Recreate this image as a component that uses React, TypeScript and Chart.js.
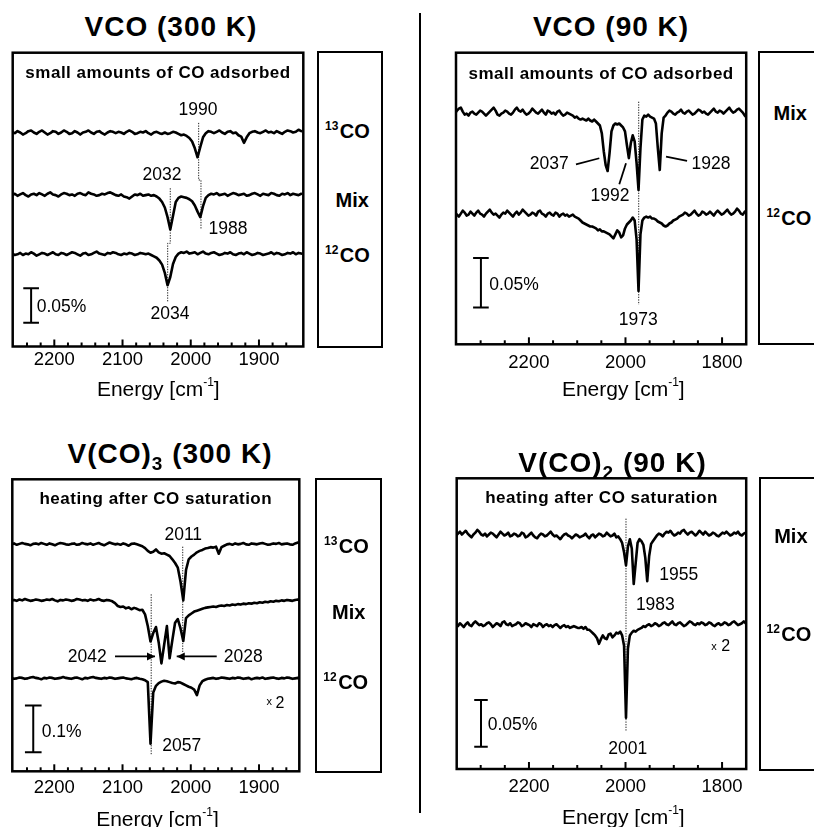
import React, { useEffect, useRef } from 'react';
import { Chart, registerables } from 'chart.js';

Chart.register(...registerables);

const FONT = '"Liberation Sans", Arial, Helvetica, sans-serif';

// ---------------- data ----------------
// Sampling grids of the spectra: first wavenumber (cm-1) and spacing (cm-1)
const GRID_VCO_300K = { start: 2262, step: 4 };
const GRID_VCO_90K = { start: 2353, step: 4 };
const GRID_VCO3_300K = { start: 2263, step: 4 };
const GRID_VCO2_90K = { start: 2351, step: 4 };

// Tick labels of the energy axes
const TICKS_300K = [2200, 2100, 2000, 1900];
const TICKS_90K = [2200, 2000, 1800];

// Signals in units of 0.001 % (relative to each trace's own baseline)
// VCO (300 K)
const VCO300_13CO = [
  2, 0, 3, 1, -2, 0, 3, 4, 1, -1,
  2, 4, 1, -2, 0, 3, 2, -1, 1, 4,
  2, -1, 0, 3, 1, -2, 1, 2, 4, 1,
  -1, 2, 3, 0, -2, 1, 3, 2, 0, 2,
  1, -1, 2, 4, 2, -1, 0, 2, 1, 3,
  0, -2, 1, 2, 0, -1, 1, -1, 0, 2,
  1, -1, -3, -2, -4, -7, -12, -22, -35, -20,
  -6, 0, 3, 2, 0, 2, 4, 1, -1, 2,
  3, 0, 1, -3, -5, -14, -6, 0, 2, 3,
  1, 0, 2, 4, 1, 2, 0, 3, 1, -1,
  2, 4, 3, 1, 2, 5, 3,
];
const VCO300_MIX = [
  0, 2, -1, 1, 3, 0, -2, 1, 2, 0,
  3, 1, -1, 2, 4, 1, 0, -2, 1, 3,
  2, 0, 1, -1, 2, 3, 1, 0, 4, 2,
  1, -1, 0, 2, 1, 3, 4, 2, 0, -1,
  1, -2, -3, -5, -2, 1, 0, 2, -1, 0,
  1, -1, 0, -2, -5, -10, -18, -32, -50, -30,
  -10, -4, -2, -3, -4, -6, -9, -15, -24, -32,
  -16, -4, 0, 2, 1, 3, 0, 1, 2, -1,
  1, 3, 2, 0, 1, 2, -1, 0, 2, 3,
  1, -1, 2, 1, 0, 3, 2, 0, -1, 2,
  1, 3, 0, 2, 1, 0, 2,
];
const VCO300_12CO = [
  1, -1, 0, 2, -1, 1, 0, 3, 1, -2,
  0, 2, 1, -1, 1, 3, 0, -1, 2, 1,
  -1, 1, 3, 2, 0, -2, 1, 2, -1, 0,
  2, 4, 1, 0, -1, 2, 1, 3, 2, 0,
  -1, 1, 0, 2, 1, -1, 0, 2, 1, 0,
  1, -1, -3, -5, -9, -15, -27, -45, -33, -14,
  -4, 1, 3, 2, 4, 1, 2, 3, 0, 2,
  4, 1, 0, 2, 3, 1, -1, 0, 2, 1,
  3, 0, -1, 1, 2, 0, 3, 1, -1, 0,
  2, 1, -1, 0, 1, 3, 0, 2, 1, -1,
  0, 2, 1, 3, 0, 2, 1,
];

// VCO (90 K)
const VCO90_MIX = [
  0, 3, 5, 6, 2, -1, 0, -2, 1, 2,
  0, -1, 1, 3, 2, 0, -2, 0, 2, 4,
  6, 3, -1, -2, 0, 1, 3, 2, 0, -1,
  1, 4, 6, 3, 2, 4, 1, -1, 0, 2,
  5, 3, 1, 0, 2, 4, 1, -1, 3, 2,
  0, 1, -1, 2, 3, 0, -2, -1, 1, 0,
  -1, -2, -4, -3, -5, -6, -5, -6, -7, -5,
  -7, -8, -6, -8, -10, -12, -20, -38, -52, -58,
  -40, -18, -12, -10, -11, -10, -12, -14, -18, -32,
  -45, -30, -22, -28, -50, -77, -35, -6, -2, -3,
  -1, -3, -4, -5, -10, -35, -57, -20, -4, -2,
  1, 3, 2, 0, -1, 1, 2, 4, 1, 0,
  2, 3, 1, -1, 0, 2, 4, 3, 1, 2,
  0, -1, 1, 3, 5, 2, 1, 3, 2, 0,
  2, 4, 6, 3, 1, 2, 4, 5, 3, 1,
  -2, -4,
];
const VCO90_12CO = [
  2, 0, -2, 1, 4, 2, -1, 0, 3, 1,
  -1, 2, 4, 1, 0, -2, 1, 3, 5, 2,
  0, 1, -1, -3, 0, 2, 1, 4, 2, 0,
  -2, 1, 3, 0, 2, 5, 3, 1, -1, 0,
  2, 1, -1, 3, 4, 1, 0, -2, 1, 2,
  0, -1, 2, 1, -2, 0, 1, -1, 0, -2,
  -1, 0, -2, -3, -4, -6, -8, -9, -10, -11,
  -12, -12, -13, -14, -16, -15, -17, -17, -18, -19,
  -20, -22, -24, -20, -16, -18, -23, -21, -14, -10,
  -8, -6, -3, -6, -25, -77, -20, -6, -3, -2,
  -3, -2, -4, -4, -5, -7, -8, -9, -11, -12,
  -11, -9, -8, -6, -5, -4, -2, -1, 0, 2,
  1, -1, 0, 2, 4, 1, -1, 0, 3, 2,
  0, 1, 3, 1, -1, 2, 4, 2, 0, 1,
  3, 5, 2, 0, 1, 3, 6, 4, 1, 0,
  3, 1,
];

// V(CO)3 (300 K)
const VCO3_13CO = [
  0, 2, -1, 1, 3, 1, 0, -2, 1, 2,
  0, 3, 1, -1, 2, 0, -2, 1, 3, 2,
  0, -1, 1, 2, -1, 0, 3, 1, 0, 2,
  -1, 1, 3, 0, -2, 1, 4, 2, 0, 1,
  -1, 2, 0, -3, 1, 2, 0, -2, -4, -8,
  -14, -18, -16, -11, -17, -20, -19, -22, -25, -32,
  -40, -50, -80, -120, -55, -32, -26, -22, -17, -14,
  -12, -9, -8, -6, -7, -5, -20, -6, -3, 0,
  1, -1, 2, 0, 1, 3, 0, -1, 2, 1,
  0, 2, 3, 1, -1, 0, 2, 1, 3, 0,
  1, 2, 0, -1, 2, 4, 1,
];
const VCO3_MIX = [
  0, 1, -1, 2, 0, 3, 1, -1, 0, 2,
  1, -1, 0, 2, 1, 3, 0, -2, 1, 0,
  2, 1, -1, 0, 3, 2, 0, 1, -1, 2,
  0, 1, 3, 0, -1, 1, 0, -2, -6, -12,
  -14, -13, -17, -15, -19, -16, -18, -21, -20, -30,
  -55, -88, -70, -57, -90, -135, -95, -55, -124, -85,
  -48, -40, -60, -87, -38, -32, -28, -24, -22, -20,
  -18, -16, -15, -14, -13, -14, -12, -11, -12, -10,
  -11, -9, -10, -8, -9, -7, -8, -6, -7, -5,
  -6, -4, -5, -3, -4, -2, -3, -1, -2, 0,
  -1, 1, 0, -1, 1, 2, 0,
];
const VCO3_12CO = [
  1, -1, 0, 2, 1, -1, 0, 2, 3, 1,
  0, -2, 1, 0, 2, 1, -1, 0, 1, 3,
  1, 0, -1, 1, 2, 0, -2, 1, 0, 2,
  3, 1, 0, -1, 1, 0, 2, 1, -1, 0,
  1, 2, 0, -1, -2, 0, 1, -1, -2, -4,
  -8, -140, -30, -16, -10, -7, -5, -6, -8, -10,
  -11, -8, -9, -12, -15, -18, -20, -24, -36, -15,
  -6, -3, -1, 0, 1, -1, 0, 2, 1, 0,
  -1, 1, 0, 2, 1, -1, 0, 1, -2, 0,
  1, 0, 2, -1, 0, 1, 2, 0, -1, 1,
  0, 2, 1, -1, 0, 1, 0,
];

// V(CO)2 (90 K)
const VCO2_MIX = [
  0, 2, 4, 1, 3, 5, 2, 0, -2, 1,
  3, 6, 4, 1, 0, 2, -1, 1, 3, 2,
  0, -2, 1, 4, 2, 0, 1, 3, -1, 0,
  2, 1, -1, 0, 3, 2, -2, -1, 1, 3,
  0, -2, -3, 0, 2, 1, -1, 0, 2, 4,
  1, -1, 0, -2, -4, -1, 1, 2, 0, -1,
  -3, -1, 1, 0, -2, -1, 0, 2, -1, -3,
  0, 1, -2, 0, 2, 1, -1, 0, 3, 1,
  -1, 0, 2, -2, -1, -4, -8, -18, -32, -12,
  -4, -14, -52, -30, -8, -4, -6, -10, -24, -49,
  -22, -9, -6, -3, 0, 2, 1, -1, 2, 4,
  3, 5, 2, 0, 1, 3, 2, 5, 6, 3,
  1, 3, 4, 2, 0, 2, 5, 3, 1, 4,
  2, 0, 1, 3, 2, 0, -1, 1, 3, 2,
  4, 2, 0, 1, 3, 2, 4, 1, 0, 2,
  3, 1,
];
const VCO2_12CO = [
  1, -1, 2, 0, -2, 1, 3, 0, -1, 2,
  4, 2, 0, 1, -1, 0, 2, 3, 1, -2,
  0, 2, 1, -1, 3, 4, 1, 0, 2, -1,
  0, 1, 3, 2, -1, 0, 2, 1, 0, -2,
  1, 0, -1, 2, 1, -2, 0, 1, -1, 0,
  -2, 0, 1, -1, -3, -1, 0, -2, -1, -3,
  -2, -1, -2, -3, -3, -2, -4, -2, -5, -5,
  -7, -9, -11, -14, -20, -15, -11, -14, -15, -10,
  -9, -13, -11, -8, -9, -7, -11, -22, -99, -25,
  -11, -8, -6, -7, -5, -4, -3, -1, -2, 0,
  1, -1, 0, 2, 1, -1, 0, 2, 3, 1,
  0, 2, 4, 1, 0, 2, 3, 1, -1, 0,
  2, 4, 3, 1, 0, 2, 1, 3, 2, 0,
  1, 3, 2, 0, -1, 1, 2, 0, 1, 3,
  2, 0, 1, 3, 4, 2, 0, 1, 2, 4,
  2, 0,
];

// ---------------- panel configuration ----------------
type Pt = [number, number];
type Label = { text: string; x: number; y: number; size?: number; align?: CanvasTextAlign };
type PanelCfg = {
  key: string;
  box: { left: number; right: number; top: number; bottom: number };
  xMin: number; xMax: number; yMax: number;
  minorStep: number; tickLabels: number[]; tickPad: number;
  subtitle: string; subtitleBase: number;
  grid: { start: number; step: number };
  traces: [number[], number][];
  scaleBar: { x: number; half: number; y0: number; y1: number };
  dotted: Pt[][];
  leaders: Pt[][];
  arrows: { from: Pt; to: Pt }[];
  labels: Label[];
};

const PANELS: PanelCfg[] = [
  {
    key: 'vco300',
    box: { left: 12.7, right: 303.3, top: 52.7, bottom: 346.5 },
    xMin: 1835, xMax: 2261, yMax: 427,
    minorStep: 20, tickLabels: TICKS_300K, tickPad: 2.4,
    subtitle: 'small amounts of CO adsorbed', subtitleBase: 25,
    grid: GRID_VCO_300K,
    traces: [[VCO300_13CO, 310], [VCO300_MIX, 220], [VCO300_12CO, 134]],
    scaleBar: { x: 2234, half: 11.5, y0: 34.6, y1: 84.6 },
    dotted: [
      [[1988.4, 325], [1988.4, 242], [1985, 242], [1985, 170]],
      [[2030, 230], [2030, 150], [2033.8, 150], [2033.8, 65]],
    ],
    leaders: [],
    arrows: [],
    labels: [
      { text: '1990', x: 1989.4, y: 345 },
      { text: '2032', x: 2042.2, y: 250.7 },
      { text: '1988', x: 1945.5, y: 172 },
      { text: '2034', x: 2030.4, y: 48.7 },
      { text: '0.05%', x: 2225.8, y: 58.9, align: 'left' },
    ],
  },
  {
    key: 'vco90',
    box: { left: 456, right: 746.2, top: 52.7, bottom: 344.3 },
    xMin: 1750, xMax: 2351, yMax: 294.5,
    minorStep: 50, tickLabels: TICKS_90K, tickPad: 7.9,
    subtitle: 'small amounts of CO adsorbed', subtitleBase: 26,
    grid: GRID_VCO_90K,
    traces: [[VCO90_MIX, 233], [VCO90_12CO, 131]],
    scaleBar: { x: 2299.4, half: 16.2, y0: 37.2, y1: 87.2 },
    dotted: [[[1972.6, 245], [1972.6, 40]]],
    leaders: [
      [[2102.5, 181.8], [2054.2, 187.9]],
      [[2012.8, 161.6], [1998.9, 182.8]],
      [[1916, 189.5], [1872.5, 185.2]],
    ],
    arrows: [],
    labels: [
      { text: '2037', x: 2157.9, y: 183.4 },
      { text: '1992', x: 2032, y: 150.8 },
      { text: '1928', x: 1822.8, y: 183.4 },
      { text: '1973', x: 1973.4, y: 26.3 },
      { text: '0.05%', x: 2282.2, y: 61.6, align: 'left' },
    ],
  },
  {
    key: 'vco3',
    box: { left: 12.3, right: 299.3, top: 479.3, bottom: 771.3 },
    xMin: 1841, xMax: 2261.5, yMax: 625.3,
    minorStep: 20, tickLabels: TICKS_300K, tickPad: 5.9,
    subtitle: 'heating after CO saturation', subtitleBase: 25,
    grid: GRID_VCO3_300K,
    traces: [[VCO3_13CO, 486], [VCO3_MIX, 366], [VCO3_12CO, 199]],
    scaleBar: { x: 2230.8, half: 12.2, y0: 40.7, y1: 140.7 },
    dotted: [
      [[2058, 379], [2058, 35]],
      [[2011.8, 481], [2011.8, 253]],
    ],
    leaders: [],
    arrows: [
      { from: [2111, 246], to: [2052.4, 246] },
      { from: [1962, 246], to: [2020.6, 246] },
    ],
    labels: [
      { text: '2011', x: 2011, y: 508 },
      { text: '2042', x: 2151.6, y: 247.5 },
      { text: '2028', x: 1923, y: 247.5 },
      { text: '2057', x: 2013.3, y: 57.8 },
      { text: '0.1%', x: 2218.5, y: 87, align: 'left' },
      { text: 'x', x: 1885, y: 149.5, size: 11 },
      { text: '2', x: 1869.3, y: 148.4, size: 16 },
    ],
  },
  {
    key: 'vco2',
    box: { left: 456.7, right: 746.2, top: 478.3, bottom: 769 },
    xMin: 1750, xMax: 2349.7, yMax: 311.2,
    minorStep: 50, tickLabels: TICKS_90K, tickPad: 6.6,
    subtitle: 'heating after CO saturation', subtitleBase: 25,
    grid: GRID_VCO2_90K,
    traces: [[VCO2_MIX, 250], [VCO2_12CO, 154]],
    scaleBar: { x: 2299.4, half: 14, y0: 23.9, y1: 73.9 },
    dotted: [[[1999, 268], [1999, 40]]],
    leaders: [],
    arrows: [],
    labels: [
      { text: '1955', x: 1889.7, y: 209.5 },
      { text: '1983', x: 1938.2, y: 176.7 },
      { text: '2001', x: 1995.4, y: 22.8 },
      { text: '0.05%', x: 2285.5, y: 48.2, align: 'left' },
      { text: 'x', x: 1816.6, y: 131.3, size: 11 },
      { text: '2', x: 1792.7, y: 132.2, size: 16 },
    ],
  },
];

const TITLES = [
  { pre: 'VCO (300 K)', sub: '', post: '', cx: 171, cy: 26.7 },
  { pre: 'VCO (90 K)', sub: '', post: '', cx: 611, cy: 26.3 },
  { pre: 'V(CO)', sub: '3', post: ' (300 K)', cx: 170, cy: 454 },
  { pre: 'V(CO)', sub: '2', post: ' (90 K)', cx: 612.5, cy: 462.5 },
];

const AXIS_TITLES = [
  { cx: 158.3, cy: 388 },
  { cx: 623.3, cy: 388.5 },
  { cx: 157.5, cy: 818 },
  { cx: 623.3, cy: 816.7 },
];

const SIDE_BOXES = [
  { left: 318, right: 382, top: 52.7, bottom: 346.7 },
  { left: 759.3, right: 900, top: 52.7, bottom: 343.3 },
  { left: 316.7, right: 380.7, top: 479.3, bottom: 771.7 },
  { left: 760, right: 900, top: 478.3, bottom: 769.3 },
];

const SIDE_LABELS = [
  { sup: '13', text: 'CO', x: 325, cy: 130.5 },
  { sup: '', text: 'Mix', x: 335.5, cy: 200 },
  { sup: '12', text: 'CO', x: 325, cy: 255 },
  { sup: '', text: 'Mix', x: 773.5, cy: 112.5 },
  { sup: '12', text: 'CO', x: 766.5, cy: 218 },
  { sup: '13', text: 'CO', x: 324, cy: 545.8 },
  { sup: '', text: 'Mix', x: 332, cy: 611.7 },
  { sup: '12', text: 'CO', x: 323.3, cy: 681.7 },
  { sup: '', text: 'Mix', x: 774.2, cy: 535.8 },
  { sup: '12', text: 'CO', x: 766.5, cy: 633.3 },
];

// ---------------- chart building ----------------
function tracePoints(values: number[], grid: { start: number; step: number }, offset: number) {
  return values.map((v, i) => ({ x: grid.start - grid.step * i, y: offset + v }));
}

function minorTickValues(min: number, max: number, step: number) {
  const out: { value: number }[] = [];
  for (let v = Math.ceil(min / step) * step; v <= max; v += step) out.push({ value: v });
  return out;
}

function geometry(box: PanelCfg['box']) {
  const cl = Math.floor(box.left) - 4;
  const ct = Math.floor(box.top) - 4;
  const w = Math.ceil(box.right) + 4 - cl;
  const h = Math.ceil(box.bottom) + 40 - ct;
  return {
    cl, ct, w, h,
    pad: { left: box.left - cl, right: cl + w - box.right, top: box.top - ct, bottom: 0 },
    axisH: h - (box.bottom - ct),
  };
}

function makeFramePlugin(p: PanelCfg) {
  return {
    id: 'frame_' + p.key,
    afterDatasetsDraw(chart: any) {
      const { ctx, chartArea: a } = chart;
      const xs = chart.scales.x;
      const ys = chart.scales.y;
      ctx.save();
      ctx.strokeStyle = '#000';
      ctx.fillStyle = '#000';
      // frame
      ctx.lineWidth = 2.5;
      ctx.strokeRect(a.left, a.top, a.right - a.left, a.bottom - a.top);
      // inward ticks
      ctx.lineWidth = 2;
      for (const t of xs.ticks) {
        const px = xs.getPixelForValue(t.value);
        if (px < a.left + 5 || px > a.right - 5) continue;
        const major = p.tickLabels.includes(Math.round(t.value));
        const len = major ? 7 : 4;
        ctx.beginPath();
        ctx.moveTo(px, a.bottom);
        ctx.lineTo(px, a.bottom - len);
        ctx.stroke();
      }
      // subtitle
      ctx.font = `bold 17px ${FONT}`;
      try { (ctx as any).letterSpacing = '0.5px'; } catch (e) { /* ignore */ }
      ctx.textAlign = 'center';
      ctx.textBaseline = 'alphabetic';
      ctx.fillText(p.subtitle, (a.left + a.right) / 2, a.top + p.subtitleBase);
      try { (ctx as any).letterSpacing = '0px'; } catch (e) { /* ignore */ }
      // labels
      for (const l of p.labels) {
        const size = l.size ?? 17.5;
        ctx.font = `${size}px ${FONT}`;
        ctx.textAlign = l.align ?? 'center';
        ctx.fillText(l.text, xs.getPixelForValue(l.x), ys.getPixelForValue(l.y) + 0.358 * size);
      }
      // arrow heads
      for (const ar of p.arrows) {
        const x1 = xs.getPixelForValue(ar.from[0]);
        const y1 = ys.getPixelForValue(ar.from[1]);
        const x2 = xs.getPixelForValue(ar.to[0]);
        const y2 = ys.getPixelForValue(ar.to[1]);
        const ang = Math.atan2(y2 - y1, x2 - x1);
        const L = 8, W = 4;
        ctx.beginPath();
        ctx.moveTo(x2, y2);
        ctx.lineTo(x2 - L * Math.cos(ang) + W * Math.sin(ang), y2 - L * Math.sin(ang) - W * Math.cos(ang));
        ctx.lineTo(x2 - L * Math.cos(ang) - W * Math.sin(ang), y2 - L * Math.sin(ang) + W * Math.cos(ang));
        ctx.closePath();
        ctx.fill();
      }
      ctx.restore();
    },
  };
}

function buildConfig(p: PanelCfg, geo: ReturnType<typeof geometry>): any {
  const datasets: any[] = [];
  for (const [vals, off] of p.traces) {
    datasets.push({
      data: tracePoints(vals, p.grid, off),
      borderColor: '#000', borderWidth: 2.6, pointRadius: 0, fill: false, tension: 0,
      borderJoinStyle: 'round', borderCapStyle: 'round',
    });
  }
  const sb = p.scaleBar;
  datasets.push({
    data: [
      { x: sb.x + sb.half, y: sb.y0 }, { x: sb.x - sb.half, y: sb.y0 }, { x: sb.x, y: sb.y0 },
      { x: sb.x, y: sb.y1 }, { x: sb.x + sb.half, y: sb.y1 }, { x: sb.x - sb.half, y: sb.y1 },
    ],
    borderColor: '#000', borderWidth: 2, pointRadius: 0, fill: false, tension: 0,
  });
  for (const d of p.dotted) {
    datasets.push({
      data: d.map(([x, y]) => ({ x, y })),
      borderColor: '#222', borderWidth: 1, borderDash: [1.3, 1.3], pointRadius: 0, fill: false, tension: 0,
    });
  }
  for (const l of p.leaders) {
    datasets.push({
      data: l.map(([x, y]) => ({ x, y })),
      borderColor: '#000', borderWidth: 1.8, pointRadius: 0, fill: false, tension: 0,
    });
  }
  for (const ar of p.arrows) {
    datasets.push({
      data: [{ x: ar.from[0], y: ar.from[1] }, { x: ar.to[0], y: ar.to[1] }],
      borderColor: '#000', borderWidth: 1.8, pointRadius: 0, fill: false, tension: 0,
    });
  }
  return {
    type: 'line',
    data: { datasets },
    options: {
      responsive: false,
      maintainAspectRatio: false,
      animation: false,
      devicePixelRatio: 1,
      events: [],
      layout: { autoPadding: false, padding: geo.pad },
      plugins: { legend: { display: false }, tooltip: { enabled: false } },
      scales: {
        x: {
          type: 'linear', reverse: true, min: p.xMin, max: p.xMax,
          grid: { display: false, drawTicks: false, tickLength: 0 },
          border: { display: false },
          ticks: {
            autoSkip: false, maxRotation: 0, minRotation: 0,
            padding: p.tickPad, color: '#000',
            font: { family: FONT, size: 18.5 },
            callback: (v: any) => {
              const r = Math.round(Number(v));
              return p.tickLabels.includes(r) ? String(r) : '';
            },
          },
          afterBuildTicks: (s: any) => { s.ticks = minorTickValues(p.xMin, p.xMax, p.minorStep); },
          afterFit: (s: any) => { s.height = geo.axisH; },
        },
        y: { type: 'linear', display: false, min: 0, max: p.yMax },
      },
    },
    plugins: [makeFramePlugin(p)],
  };
}

function Panel({ p }: { p: PanelCfg }) {
  const ref = useRef<HTMLCanvasElement>(null);
  const geo = geometry(p.box);
  useEffect(() => {
    if (!ref.current) return;
    const chart = new Chart(ref.current, buildConfig(p, geo));
    return () => chart.destroy();
  }, []);
  return (
    <canvas
      ref={ref}
      width={geo.w}
      height={geo.h}
      style={{ position: 'absolute', left: geo.cl, top: geo.ct, width: geo.w, height: geo.h }}
    />
  );
}

export default function App() {
  return (
    <div style={{ position: 'fixed', left: 0, top: 0, width: 814, height: 827, overflow: 'hidden', background: '#fff', color: '#000', fontFamily: FONT }}>
      {PANELS.map((p) => <Panel key={p.key} p={p} />)}
      {TITLES.map((t, i) => (
        <div key={'t' + i} style={{ position: 'absolute', left: t.cx - 200, width: 400, textAlign: 'center', top: t.cy - 0.4885 * 28, fontSize: 28, lineHeight: '28px', fontWeight: 'bold', letterSpacing: 1, whiteSpace: 'nowrap' }}>
          {t.pre}
          {t.sub && <span style={{ fontSize: 19, position: 'relative', top: 7 }}>{t.sub}</span>}
          {t.post}
        </div>
      ))}
      {AXIS_TITLES.map((a, i) => (
        <div key={'a' + i} style={{ position: 'absolute', left: a.cx - 150, width: 300, textAlign: 'center', top: a.cy - 0.4885 * 21, fontSize: 21, lineHeight: '21px', whiteSpace: 'nowrap' }}>
          Energy [cm<span style={{ fontSize: 12, position: 'relative', top: -10 }}>-1</span>]
        </div>
      ))}
      {SIDE_BOXES.map((b, i) => (
        <div key={'b' + i} style={{ position: 'absolute', boxSizing: 'border-box', left: b.left - 1.25, top: b.top - 1.25, width: b.right - b.left + 2.5, height: b.bottom - b.top + 2.5, border: '2.5px solid #000' }} />
      ))}
      {SIDE_LABELS.map((s, i) => (
        <div key={'s' + i} style={{ position: 'absolute', left: s.x, top: s.cy - 0.4885 * 20, fontSize: 20, lineHeight: '20px', fontWeight: 'bold', whiteSpace: 'nowrap' }}>
          {s.sup && <span style={{ fontSize: 12, position: 'relative', top: -8, marginRight: 1.5 }}>{s.sup}</span>}
          {s.text}
        </div>
      ))}
      <div style={{ position: 'absolute', left: 418.75, top: 13, width: 2.5, height: 800, background: '#000' }} />
    </div>
  );
}
